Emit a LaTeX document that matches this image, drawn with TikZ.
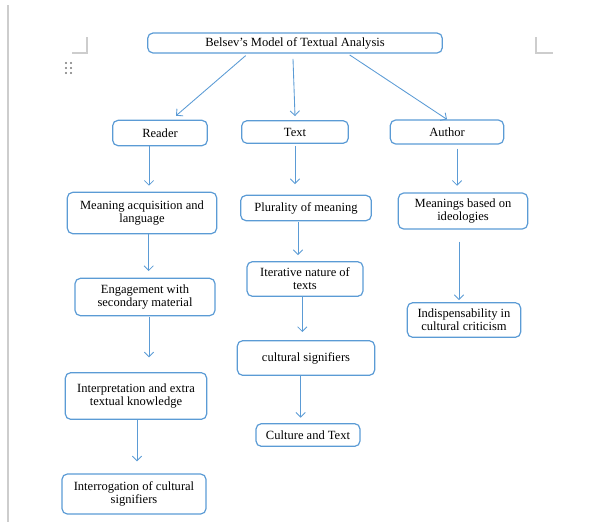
\documentclass[tikz,border=0pt]{standalone}
\usepackage{fontspec}
\setmainfont{Liberation Serif}
\usetikzlibrary{arrows.meta}
\definecolor{boxblue}{RGB}{91,155,213}
\definecolor{markgray}{RGB}{205,205,205}
\definecolor{dotgray}{RGB}{120,120,120}

\begin{document}
\begin{tikzpicture}[
    x=0.75pt, y=-0.75pt,
    box/.style={draw=boxblue, line width=0.9pt, rounded corners=4pt, inner sep=0pt, align=center, font=\fontsize{9.4}{9.8}\selectfont},
    arrow/.style={-{Straight Barb[length=3.5pt,width=7pt]}, draw=boxblue, line width=0.65pt}
]
    \useasboundingbox (0,0) rectangle (616,522);

    % page marks
    \draw[markgray, line width=1pt] (8,5) -- (8,522);
    \draw[markgray, line width=1pt] (87,37) -- (87,53) -- (72,53);
    \draw[markgray, line width=1pt] (536,37) -- (536,53) -- (553,53);
    \foreach \i in {66,71}
        \foreach \j in {63,68,73}
            \fill[dotgray] (\i,\j) circle (0.8pt);

    % top
    \node[box, minimum width=221pt, minimum height=15pt] (title) at (295,43) {Belsev's Model of Textual Analysis};

    % three strands
    \node[box, minimum width=71pt, minimum height=19pt] (reader) at (160,133) {Reader};
    \node[box, minimum width=80pt, minimum height=17pt] (text) at (295,132) {Text};
    \node[box, minimum width=85pt, minimum height=18pt] (author) at (447,132) {Author};

    % reader column
    \node[box, minimum width=112pt, minimum height=31pt] (acquisition) at (142,213) {Meaning acquisition and\\language};
    \node[box, minimum width=105pt, minimum height=28pt] (engagement) at (145,297) {Engagement with\\secondary material};
    \node[box, minimum width=106pt, minimum height=35pt] (interpretation) at (136,396) {Interpretation and extra\\textual knowledge};
    \node[box, minimum width=108pt, minimum height=30pt] (interrogation) at (134,494) {Interrogation of cultural\\signifiers};

    % text column
    \node[box, minimum width=98pt, minimum height=19pt] (plurality) at (306,208) {Plurality of meaning};
    \node[box, minimum width=87pt, minimum height=26pt] (iterative) at (305,279) {Iterative nature of\\texts};
    \node[box, minimum width=103pt, minimum height=26pt] (signifiers) at (306,358) {cultural signifiers};
    \node[box, minimum width=78pt, minimum height=17pt] (culture) at (308,435) {Culture and Text};

    % author column
    \node[box, minimum width=97pt, minimum height=27pt] (ideologies) at (463,211) {Meanings based on\\ideologies};
    \node[box, minimum width=85pt, minimum height=26pt] (criticism) at (464,320) {Indispensability in\\cultural criticism};

    % connectors
    \draw[arrow] ([xshift=-37pt,yshift=-1.5pt]title.south) -- ([xshift=12pt,yshift=3pt]reader.north);
    \draw[arrow] ([xshift=-1.5pt,yshift=-4pt]title.south) -- ([yshift=3pt]text.north);
    \draw[arrow] ([xshift=41pt,yshift=-1pt]title.south) -- (author.north);

    \draw[arrow, shorten >=4.5pt] ([xshift=-8.25pt]reader.south) -- ([xshift=-8.25pt]reader.south |- acquisition.north);
    \draw[arrow, shorten >=5pt] ([xshift=5pt]acquisition.south) -- ([xshift=5pt]acquisition.south |- engagement.north);
    \draw[arrow, shorten <=0.75pt, shorten >=11pt] ([xshift=3pt]engagement.south) -- ([xshift=3pt]engagement.south |- interpretation.north);
    \draw[arrow, shorten >=9pt] ([xshift=0.75pt]interpretation.south) -- ([xshift=0.75pt]interpretation.south |- interrogation.north);

    \draw[arrow, shorten <=1.5pt, shorten >=8pt] (text.south) -- (text.south |- plurality.north);
    \draw[arrow, shorten <=0.75pt, shorten >=4.5pt] ([xshift=-6pt]plurality.south) -- ([xshift=-6pt]plurality.south |- iterative.north);
    \draw[arrow, shorten >=6pt] ([xshift=-2pt]iterative.south) -- ([xshift=-2pt]iterative.south |- signifiers.north);
    \draw[arrow, shorten >=4pt] ([xshift=-4pt]signifiers.south) -- ([xshift=-4pt]signifiers.south |- culture.north);

    \draw[arrow, shorten <=3pt, shorten >=5pt] ([xshift=7.5pt]author.south) -- ([xshift=7.5pt]author.south |- ideologies.north);
    \draw[arrow, shorten <=9pt, shorten >=1.5pt] ([xshift=-3pt]ideologies.south) -- ([xshift=-3pt]ideologies.south |- criticism.north);
\end{tikzpicture}
\end{document}
